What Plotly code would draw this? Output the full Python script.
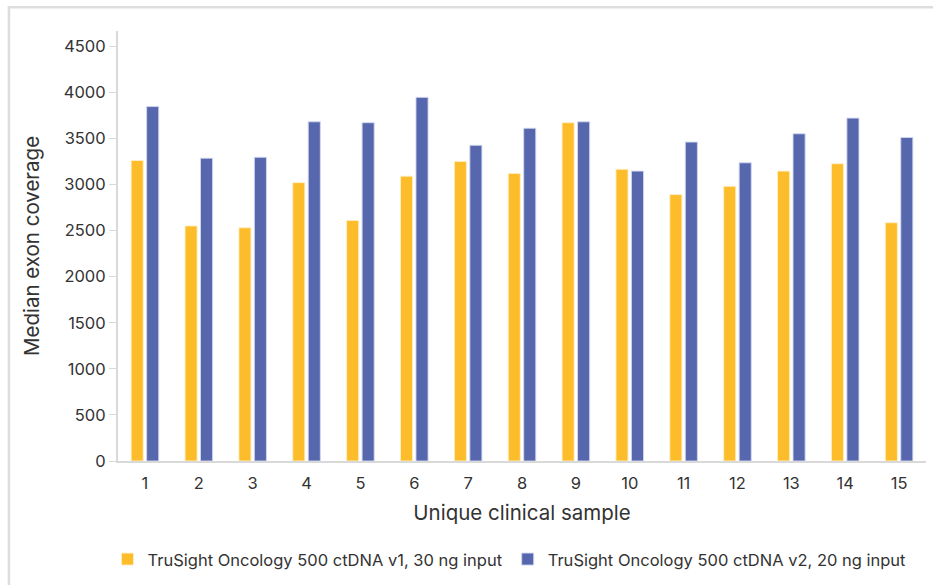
import plotly.graph_objects as go

samples = [str(i) for i in range(1, 16)]
v1_30ng = [3260, 2550, 2530, 3020, 2610, 3090, 3250, 3120, 3670, 3165, 2890, 2980, 3145, 3225, 2585]
v2_20ng = [3845, 3285, 3295, 3680, 3670, 3945, 3425, 3610, 3680, 3145, 3460, 3235, 3550, 3720, 3510]
y_ticks = [0, 500, 1000, 1500, 2000, 2500, 3000, 3500, 4000, 4500]

name_v1 = "TruSight Oncology 500 ctDNA v1, 30 ng input"
name_v2 = "TruSight Oncology 500 ctDNA v2, 20 ng input"

fig = go.Figure()
fig.add_trace(go.Bar(x=samples, y=v1_30ng, name=name_v1,
                     marker=dict(color="#FDBC2A", line=dict(color="rgba(255,240,200,0.9)", width=1))))
fig.add_trace(go.Bar(x=samples, y=v2_20ng, name=name_v2,
                     marker=dict(color="#5767AE", line=dict(color="rgba(210,215,240,0.9)", width=1))))

font_family = "Inter, Roboto, sans-serif"
fig.update_layout(
    width=933, height=585,
    margin=dict(l=118, r=7, t=31, b=124, autoexpand=False),
    paper_bgcolor="white", plot_bgcolor="white",
    font=dict(family=font_family, color="#333333", size=16.5),
    barmode="group", bargap=0.425, bargroupgap=0.22,
    showlegend=True,
    legend=dict(orientation="h", x=-0.013, xanchor="left", y=-0.188, yanchor="top",
                font=dict(size=16.5, color="#333333"), itemwidth=30, traceorder="normal"),
    xaxis=dict(
        title=dict(text="Unique clinical sample", font=dict(size=20.5), standoff=14),
        showline=True, linecolor="#D9D9D9", linewidth=2, automargin=False,
        ticks="outside", ticklen=6, tickcolor="rgba(0,0,0,0)",
        showgrid=False, range=[-0.5, 14.5],
        tickfont=dict(size=16.5),
    ),
    yaxis=dict(
        title=dict(text="Median exon coverage", font=dict(size=20.5), standoff=19),
        showline=True, linecolor="#D9D9D9", linewidth=2, automargin=False,
        ticks="outside", ticklen=7, tickcolor="#D9D9D9", tickwidth=1,
        tickvals=y_ticks, showgrid=False, zeroline=False,
        range=[0, 4665], tickfont=dict(size=16.5),
    ),
    shapes=[dict(type="rect", xref="paper", yref="paper",
                 x0=-0.135, x1=1.2, y0=-0.5, y1=1.0555,
                 line=dict(color="#DDDDDD", width=2.5), fillcolor="rgba(0,0,0,0)", layer="below")],
)

fig.write_html("out.html", config={"displayModeBar": False},
               post_script="document.body.style.margin='0';")
